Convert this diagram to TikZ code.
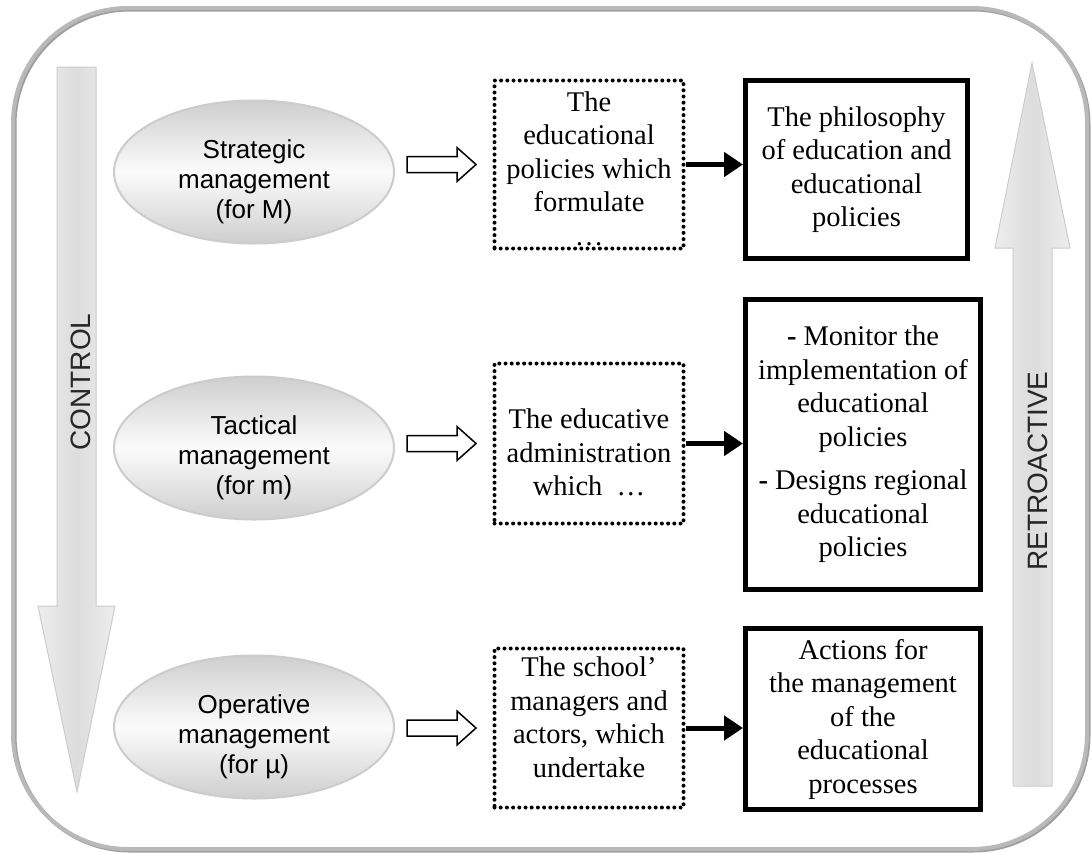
\documentclass[tikz,border=0pt]{standalone}
\usepackage{fontspec}
\setmainfont{Liberation Serif}
\newfontfamily\arialf{Liberation Sans}
\usetikzlibrary{shapes.geometric,arrows.meta}
\begin{document}
\begin{tikzpicture}[x=1pt,y=-1pt,
  frame/.style={draw=gray!55,line width=4pt,rounded corners=115pt},
  bigarrow/.style={draw=gray!40,line width=1pt,left color=gray!14,right color=gray!14,middle color=gray!27},
  mgmt/.style={ellipse,draw=gray!40,line width=2pt,minimum width=280pt,minimum height=143pt,inner sep=0pt,top color=gray!38,bottom color=gray!38,middle color=gray!3},
  mgmttext/.style={align=center,inner sep=0pt,font=\arialf\fontsize{26pt}{30pt}\selectfont},
  dotbox/.style={draw,line width=4pt,dash pattern=on 0pt off 6.2pt,line cap=round,inner sep=0pt},
  boxtext/.style={align=center,inner sep=0pt,font=\fontsize{28.5pt}{33.5pt}\selectfont},
  solidbox/.style={draw,line width=5pt,inner sep=0pt,align=center,font=\fontsize{28.5pt}{33.5pt}\selectfont},
  hollow/.style={draw=black,line width=1.5pt,fill=white,line join=miter},
  link/.style={line width=5pt,-{Triangle[length=19pt,width=24pt]}},
  vlabel/.style={rotate=90,anchor=base,font=\arialf\fontsize{28pt}{32pt}\selectfont,text=black!85}
]
\useasboundingbox (0,0) rectangle (1091,852);
\fill[white] (0,0) rectangle (1091,852);

% outer frame
\draw[frame,draw=gray!75,shift={(1.5,1.5)}] (13,8) rectangle (1087,849);
\draw[frame] (13,8) rectangle (1087,849);

% control arrow
\draw[bigarrow] (57,67) -- (96,67) -- (96,606) -- (115,606) -- (77,792) -- (38,606) -- (57,606) -- cycle;
\node[vlabel] (ctl) at (90,382) {CONTROL};

% retroactive arrow
\draw[bigarrow] (1013,786) -- (1013,248) -- (995,248) -- (1032,63) -- (1070,248) -- (1052,248) -- (1052,786) -- cycle;
\node[vlabel] (ret) at (1047,471) {RETROACTIVE};

% ellipses
\node[mgmt] (e1) at (254,172) {};
\node[mgmt] (e2) at (254,448) {};
\node[mgmt] (e3) at (254,727) {};
\node[mgmttext] (et1) at ([yshift=-10pt]e1.center) {Strategic\\management\\(for M)};
\node[mgmttext] (et2) at ([yshift=-10pt]e2.center) {Tactical\\management\\(for m)};
\node[mgmttext] (et3) at ([yshift=-10pt]e3.center) {Operative\\management\\(for µ)};

% dotted boxes
\node[dotbox,minimum width=189pt,minimum height=168pt] (d1) at (589,164.5) {};
\node[dotbox,minimum width=189pt,minimum height=160pt] (d2) at (589,443.5) {};
\node[dotbox,minimum width=189pt,minimum height=159pt] (d3) at (589,728) {};
\node[boxtext] (dt1) at ([yshift=-4pt]d1.center) {The\\educational\\policies which\\formulate\\…};
\node[boxtext] (dt2) at ([yshift=-9pt]d2.center) {The educative\\administration\\which~~…};
\node[boxtext] (dt3) at ([yshift=11pt]d3.center) {The school’\\managers and\\actors, which\\undertake};

% solid boxes
\node[solidbox,minimum width=222pt,minimum height=178pt] (s1) at (856.5,169.5) {The philosophy\\of education and\\educational\\policies};
\node[solidbox,minimum width=235pt,minimum height=290pt] (s2) at (863,444.5) {{\bfseries -} Monitor the\\implementation of\\educational\\policies\\[10pt]{\bfseries -} Designs regional\\educational\\policies};
\node[solidbox,minimum width=235pt,minimum height=181pt] (s3) at (863,719) {Actions for\\the management\\of the\\educational\\processes};

% hollow arrows and links
\foreach \i in {1,2,3} {
  \coordinate (h\i) at (e\i.east |- d\i.west);
  \draw[hollow] ([xshift=12pt]h\i) ++(0,-8) -- ++(50,0) -- ++(0,-9) -- ++(19,17) -- ++(-19,17) -- ++(0,-9) -- ++(-50,0) -- cycle;
  \draw[link] (d\i.east) -- (d\i.east -| s\i.west);
}
\end{tikzpicture}
\end{document}
